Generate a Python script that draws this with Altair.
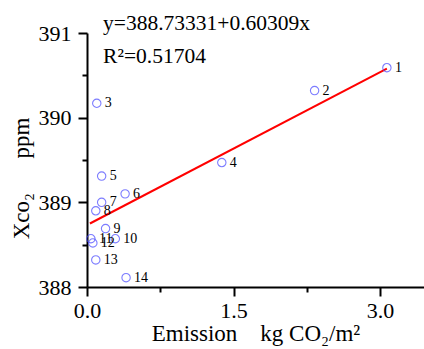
import altair as alt
import pandas as pd

# data
ids = ["1", "2", "3", "4", "5", "6", "7", "8", "9", "10", "11", "12", "13", "14"]
emission = [3.07, 2.33, 0.10, 1.38, 0.15, 0.39, 0.15, 0.09, 0.19, 0.29, 0.04, 0.06, 0.09, 0.40]
xco2 = [390.59, 390.32, 390.17, 389.47, 389.31, 389.10, 389.00, 388.90, 388.69, 388.57, 388.57, 388.52, 388.32, 388.11]

fit_x = [0.03, 3.07]
fit_y = [388.75, 390.58]

eq_text = ["y=388.73331+0.60309x", "R²=0.51704"]
eq_x = [0.165, 0.165]
eq_y = [391.04, 390.64]

x_ticks = [0.0, 0.75, 1.5, 2.25, 3.0]
y_ticks = [388.0, 388.5, 389.0, 389.5, 390.0, 390.5, 391.0]

FONT = "Liberation Serif"
NB = "\u00a0"

pts = pd.DataFrame({"id": ids, "emission": emission, "xco2": xco2})
fit = pd.DataFrame({"emission": fit_x, "xco2": fit_y})
eq = pd.DataFrame({"t": eq_text, "emission": eq_x, "xco2": eq_y})

xscale = alt.Scale(domain=[0, 3.45], nice=False, zero=False)
yscale = alt.Scale(domain=[388, 391], nice=False, zero=False)

xaxis = alt.Axis(
    values=x_ticks,
    labelExpr="datum.value % 1.5 == 0 ? format(datum.value, '.1f') : ''",
    tickSize={"condition": {"test": "datum.value % 1.5 == 0", "value": 9}, "value": 5},
    labelFlush=False,
    labelPadding=4,
    title="Emission" + NB * 4 + "kg CO₂/m²",
    titlePadding=1,
)
yaxis = alt.Axis(
    values=y_ticks,
    labelExpr="datum.value % 1 == 0 ? format(datum.value, 'd') : ''",
    tickSize={"condition": {"test": "datum.value % 1 == 0", "value": 9}, "value": 5},
    labelFlush=False,
    labelPadding=7,
    title="Xco₂" + NB * 6 + "ppm",
    titleX=-66,
    titleY=145,
    titleAlign="center",
    titleBaseline="middle",
)

X = alt.X("emission:Q", scale=xscale, axis=xaxis)
Y = alt.Y("xco2:Q", scale=yscale, axis=yaxis)

points = alt.Chart(pts).mark_point(
    shape="circle", filled=False, size=70, color="#4646ff", strokeWidth=1.1
).encode(x=X, y=Y)

labels = alt.Chart(pts).mark_text(
    align="left", baseline="middle", dx=8, fontSize=14, font=FONT, color="black"
).encode(x="emission:Q", y="xco2:Q", text="id:N")

line = alt.Chart(fit).mark_line(color="#ff0000", strokeWidth=2).encode(x="emission:Q", y="xco2:Q")

eqtext = alt.Chart(eq).mark_text(
    align="left", baseline="alphabetic", fontSize=21.5, font=FONT, color="black", clip=False
).encode(x="emission:Q", y="xco2:Q", text="t:N")

chart = alt.layer(line, points, labels, eqtext).properties(
    width=337, height=254,
    autosize=alt.AutoSizeParams(type="none"),
    padding={"left": 87, "top": 33, "right": 0, "bottom": 62},
    background="white",
).configure_view(stroke=None).configure_axis(
    domainColor="black", domainWidth=2, tickColor="black", tickWidth=2,
    labelFont=FONT, labelFontSize=22, labelColor="black",
    titleFont=FONT, titleFontSize=23, titleFontWeight="normal", titleColor="black",
    grid=False,
)

chart.save("out.html", embed_options={"renderer": "svg", "actions": False})
